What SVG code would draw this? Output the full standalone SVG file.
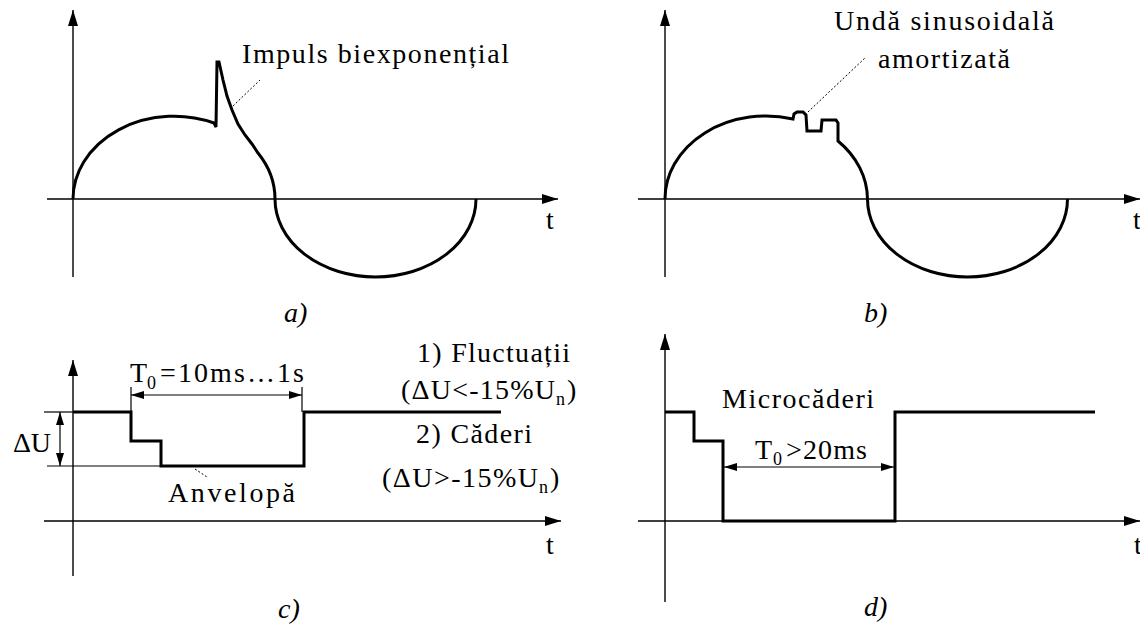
<svg xmlns="http://www.w3.org/2000/svg" width="1140" height="624" viewBox="0 0 1140 624">
<style>
.ax{fill:none;stroke:#000;stroke-width:1.4}
.sig{fill:none;stroke:#000;stroke-width:3;stroke-linejoin:miter}
.thin{fill:none;stroke:#000;stroke-width:1.2}
.lead{fill:none;stroke:#000;stroke-width:1;stroke-dasharray:2,2}
.dim{fill:none;stroke:#000;stroke-width:1.2;marker-start:url(#dh);marker-end:url(#dh)}
text{font-size:28px;fill:#000}
.lab{font-style:italic;font-size:28px}
.sub{font-size:18px}
</style>
<defs>
<marker id="ah" viewBox="0 0 16 10" refX="16" refY="5" markerWidth="16" markerHeight="10" markerUnits="userSpaceOnUse" orient="auto"><path d="M0,0 L16,5 L0,10 z" fill="#000"/></marker>
<marker id="dh" viewBox="0 0 13 8" refX="13" refY="4" markerWidth="13" markerHeight="8" markerUnits="userSpaceOnUse" orient="auto-start-reverse"><path d="M0,0 L13,4 L0,8 z" fill="#000"/></marker>
</defs>
<g font-family="'Liberation Serif', 'DejaVu Serif', 'Times New Roman', serif">
<g id="panel-a">
<line class="ax" x1="73" y1="277" x2="73" y2="10" marker-end="url(#ah)"/>
<line class="ax" x1="47" y1="199" x2="558" y2="199" marker-end="url(#ah)"/>
<path class="sig" d="M73,199 A101,83 0 0,1 214,123 L216,127 L217,62 L219,62 L223,80 L227,96 L232,110 L238,124 L245,135 L252,144 L258,153 A101,83 0 0,1 275,199 A100.5,78 0 0,0 476,199"/>
<line class="lead" x1="233" y1="106" x2="260" y2="80"/>
<text x="242" y="63" textLength="267" lengthAdjust="spacing">Impuls biexponențial</text>
<text x="546" y="229">t</text>
<text class="lab" x="284" y="322">a)</text>
</g>

<g id="panel-b">
<line class="ax" x1="665" y1="277" x2="665" y2="10" marker-end="url(#ah)"/>
<line class="ax" x1="638" y1="199" x2="1140" y2="199" marker-end="url(#ah)"/>
<path class="sig" d="M665,199 A101,83 0 0,1 793,119 L794,114 L797,112 L803,112 L806,115 L807,131 L821,131 L822,120 L836,120 L838,123 L838,141 A101,83 0 0,1 867.5,199 A100,78 0 0,0 1067.5,199"/>
<line class="lead" x1="808" y1="112" x2="866" y2="57"/>
<text x="834" y="30" textLength="220" lengthAdjust="spacing">Undă sinusoidală</text>
<text x="878" y="68" textLength="132" lengthAdjust="spacing">amortizată</text>
<text x="1133" y="229">t</text>
<text class="lab" x="864" y="322">b)</text>
</g>

<g id="panel-c">
<line class="ax" x1="73" y1="576" x2="73" y2="360" marker-end="url(#ah)"/>
<line class="ax" x1="44" y1="521" x2="561" y2="521" marker-end="url(#ah)"/>
<path class="sig" d="M73,412 H131 V441 H161 V466 H304 V412 H501"/>
<line class="thin" x1="44" y1="412" x2="73" y2="412"/>
<line class="thin" x1="47" y1="466" x2="161" y2="466"/>
<line class="thin" x1="131" y1="387" x2="131" y2="412"/>
<line class="thin" x1="302" y1="387" x2="302" y2="412"/>
<line class="dim" x1="131" y1="395" x2="302" y2="395"/>
<line class="dim" x1="60" y1="412" x2="60" y2="466"/>
<line class="lead" x1="195" y1="469" x2="207" y2="477"/>
<text x="130" y="382">T</text>
<text class="sub" x="147" y="389">0</text>
<text x="160" y="382" textLength="144" lengthAdjust="spacing">=10ms…1s</text>
<text x="13" y="452" textLength="38" lengthAdjust="spacing">ΔU</text>
<text x="168" y="502" textLength="127" lengthAdjust="spacing">Anvelopă</text>
<text x="417" y="362" textLength="153" lengthAdjust="spacing">1) Fluctuații</text>
<text x="401" y="399" textLength="154" lengthAdjust="spacing">(ΔU&lt;-15%U</text>
<text class="sub" x="556" y="405">n</text>
<text x="567" y="399">)</text>
<text x="416" y="443" textLength="116" lengthAdjust="spacing">2) Căderi</text>
<text x="382" y="487" textLength="156" lengthAdjust="spacing">(ΔU&gt;-15%U</text>
<text class="sub" x="539" y="493">n</text>
<text x="550" y="487">)</text>
<text x="546" y="554">t</text>
<text class="lab" x="278" y="618">c)</text>
</g>

<g id="panel-d">
<line class="ax" x1="665" y1="602" x2="665" y2="334" marker-end="url(#ah)"/>
<line class="ax" x1="638" y1="521" x2="1140" y2="521" marker-end="url(#ah)"/>
<path class="sig" d="M665,412 H694 V441 H723 V521 H895 V412 H1095"/>
<line class="dim" x1="724" y1="467" x2="894" y2="467"/>
<text x="722" y="408" textLength="152" lengthAdjust="spacing">Microcăderi</text>
<text x="755" y="459">T</text>
<text class="sub" x="773" y="465">0</text>
<text x="786" y="459" textLength="81" lengthAdjust="spacing">&gt;20ms</text>
<text x="1134" y="554">t</text>
<text class="lab" x="864" y="616">d)</text>
</g>
</g>
</svg>
